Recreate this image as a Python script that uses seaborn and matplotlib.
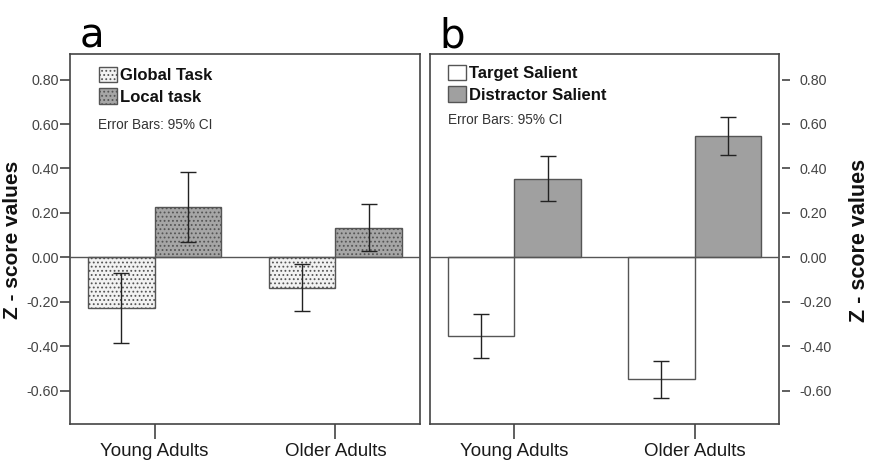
import matplotlib
matplotlib.use("Agg")
import matplotlib.pyplot as plt
import seaborn as sns
import pandas as pd
import numpy as np
from matplotlib.patches import Patch

# ---- data ----
groups = ["Young Adults", "Older Adults"]

task_levels = ["Global Task", "Local task"]
task_mean = {"Global Task": [-0.226, -0.137], "Local task": [0.226, 0.133]}
task_lo = {"Global Task": [-0.387, -0.243], "Local task": [0.067, 0.027]}
task_hi = {"Global Task": [-0.069, -0.029], "Local task": [0.382, 0.240]}

sal_levels = ["Target Salient", "Distractor Salient"]
sal_mean = {"Target Salient": [-0.354, -0.547], "Distractor Salient": [0.353, 0.545]}
sal_lo = {"Target Salient": [-0.454, -0.631], "Distractor Salient": [0.252, 0.461]}
sal_hi = {"Target Salient": [-0.255, -0.465], "Distractor Salient": [0.454, 0.631]}

yticks = [-0.6, -0.4, -0.2, 0.0, 0.2, 0.4, 0.6, 0.8]
ylabel = "Z - score values"


def make_df(levels, mean, lo, hi):
    rows = []
    for lv in levels:
        for i, g in enumerate(groups):
            rows.append(dict(group=g, cond=lv, mean=mean[lv][i], lo=lo[lv][i], hi=hi[lv][i]))
    return pd.DataFrame(rows)


df_a = make_df(task_levels, task_mean, task_lo, task_hi)
df_b = make_df(sal_levels, sal_mean, sal_lo, sal_hi)

sns.set_theme(style="white")
plt.rcParams["font.family"] = ["Liberation Sans", "DejaVu Sans"]
plt.rcParams["hatch.linewidth"] = 0.8

fig = plt.figure(figsize=(8.76, 4.68), dpi=100)
W, H = 876, 468
ax_a = fig.add_axes([70 / W, (468 - 424) / H, 350 / W, 370 / H])
ax_b = fig.add_axes([430 / W, (468 - 424) / H, 349 / W, 370 / H])

edge = "#555555"
spine_c = "#444444"
ylim = (-0.75, 0.915)


def draw(ax, df, levels, colors, hatches):
    sns.barplot(data=df, x="group", y="mean", hue="cond", hue_order=levels,
                order=groups, palette=dict(zip(levels, colors)), errorbar=None,
                width=0.74, gap=0, legend=False, ax=ax, saturation=1,
                edgecolor=edge, linewidth=1.0)
    for p in ax.patches:
        h = p.get_height()
        idx = (df["mean"] - h).abs().idxmin()
        row = df.loc[idx]
        lv = row["cond"]
        p.set_hatch(hatches[levels.index(lv)])
        xc = p.get_x() + p.get_width() / 2
        ax.errorbar([xc], [row["mean"]],
                    yerr=[[row["mean"] - row["lo"]], [row["hi"] - row["mean"]]],
                    fmt="none", ecolor="#222222", elinewidth=1.0, capsize=6, capthick=1.0,
                    zorder=5)
    ax.axhline(0, color=edge, lw=1.0, zorder=4)
    ax.set_ylim(*ylim)
    ax.set_xlim(-0.467, 1.467)
    ax.set_yticks(yticks)
    ax.set_yticklabels([f"{t:.2f}" for t in yticks])
    ax.set_xlabel("")
    ax.set_ylabel("")
    for s in ax.spines.values():
        s.set_color(spine_c)
        s.set_linewidth(1.2)
        s.set_visible(True)
    ax.tick_params(axis="x", which="both", bottom=True, direction="out", length=10.5,
                   width=1.2, color=spine_c, labelsize=13.5, pad=3.5, labelcolor="#1a1a1a")
    ax.tick_params(axis="y", labelsize=10.3, labelcolor="#444444")


draw(ax_a, df_a, task_levels, ["#f2f2f2", "#a6a6a6"], ["....", "...."])
draw(ax_b, df_b, sal_levels, ["#ffffff", "#a0a0a0"], ["", ""])

# panel a y axis
ax_a.tick_params(axis="y", left=True, direction="out", length=7, width=1.2, color=spine_c, pad=1)
ax_a.set_ylabel(ylabel, fontsize=15, fontweight="bold", color="#111111")
ax_a.yaxis.set_label_coords(-0.136, 0.497)

# panel b y axis on the right, ticks offset from frame
ax_b2 = ax_b.twinx()
ax_b.tick_params(axis="y", left=False, right=False, labelleft=False, labelright=False)
ax_b2.set_ylim(*ylim)
ax_b2.set_yticks(yticks)
ax_b2.set_yticklabels([f"{t:.2f}" for t in yticks])
ax_b2.spines["right"].set_position(("outward", 2.5))
for s in ax_b2.spines.values():
    s.set_visible(False)
ax_b2.tick_params(axis="y", left=False, labelleft=False, right=True, labelright=True,
                  direction="out", length=6, width=1.2,
                  color=spine_c, pad=6, labelsize=10.3, labelcolor="#444444")
ax_b2.set_ylabel(ylabel, fontsize=15.5, fontweight="bold", color="#111111", rotation=90)
ax_b2.yaxis.set_label_coords(1.2, 0.497)
ax_b2.grid(False)

# legends
def legend(ax, levels, colors, hatches, x0, y0):
    handles = [Patch(facecolor=c, edgecolor=edge, hatch=h, linewidth=1.0)
               for c, h in zip(colors, hatches)]
    leg = ax.legend(handles, levels, loc="upper left", bbox_to_anchor=(x0, y0),
                    frameon=False, prop=dict(weight="bold", size=12),
                    handlelength=1.05, handleheight=1.05, handletextpad=0.2,
                    labelspacing=0.3, borderpad=0, borderaxespad=0)
    for t in leg.get_texts():
        t.set_color("#111111")
    return leg

legend(ax_a, task_levels, ["#f2f2f2", "#a6a6a6"], ["....", "...."], 29 / 350, 1 - 13 / 370)
legend(ax_b, sal_levels, ["#ffffff", "#a0a0a0"], ["", ""], 18 / 349, 1 - 11 / 370)
ax_a.text(28 / 350, (424 - 125) / 370, "Error Bars: 95% CI", transform=ax_a.transAxes,
          fontsize=9.8, color="#333333", va="center", ha="left")
ax_b.text(18 / 349, (424 - 120) / 370, "Error Bars: 95% CI", transform=ax_b.transAxes,
          fontsize=9.8, color="#333333", va="center", ha="left")

# panel letters
fig.text(80 / W, 1 - 47 / H, "a", fontsize=29, family="DejaVu Sans", color="#000000",
         va="baseline", ha="left")
fig.text(439 / W, 1 - 47 / H, "b", fontsize=29, family="DejaVu Sans", color="#000000",
         va="baseline", ha="left")

fig.savefig("out.png", dpi=100)
